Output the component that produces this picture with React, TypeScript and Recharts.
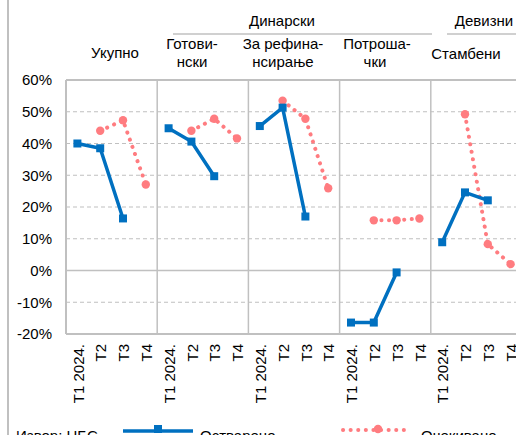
import React from 'react';
import {
  LineChart,
  Line,
  XAxis,
  YAxis,
  CartesianGrid,
  ReferenceLine,
} from 'recharts';

const groups = ['Укупно', 'Готовински', 'За рефинансирање', 'Потрошачки', 'Стамбени'];
const quarters = ['T1 2024.', 'T2', 'T3', 'T4'];

// Остварено
const ukupnoActual = [40, 38.5, 16.4, null];
const gotovinskiActual = [44.8, 40.6, 29.7, null];
const refinActual = [45.5, 51.3, 17.0, null];
const potrosackiActual = [-16.4, -16.4, -0.6, null];
const stambeniActual = [8.9, 24.6, 22.1, null];

// Очекивано
const ukupnoExpected = [null, 44.0, 47.3, 27.1];
const gotovinskiExpected = [null, 44.0, 47.8, 41.6];
const refinExpected = [null, 53.5, 47.8, 25.9];
const potrosackiExpected = [null, 15.8, 15.8, 16.4];
const stambeniExpected = [null, 49.2, 8.3, 2.0];

const yTicks = [-20, -10, 0, 10, 20, 30, 40, 50, 60];

const actualByGroup = [ukupnoActual, gotovinskiActual, refinActual, potrosackiActual, stambeniActual];
const expectedByGroup = [ukupnoExpected, gotovinskiExpected, refinExpected, potrosackiExpected, stambeniExpected];

const data = groups.flatMap((g, gi) =>
  quarters.map((q, qi) => ({
    key: `${g}|${q}`,
    quarter: q,
    actual: actualByGroup[gi][qi],
    expected: expectedByGroup[gi][qi],
  }))
);

const BLUE = '#0070C0';
const PINK = '#FF7C80';
const GRID = '#c0c0c0';
const FONT = 'Arial, "Liberation Sans", sans-serif';

const SquareDot = (props: any) => {
  const { cx, cy, value } = props;
  if (value == null || cx == null || cy == null) return <g />;
  return <rect x={cx - 4} y={cy - 4} width={8} height={8} fill={BLUE} />;
};

const CircleDot = (props: any) => {
  const { cx, cy, value } = props;
  if (value == null || cx == null || cy == null) return <g />;
  return <circle cx={cx} cy={cy} r={4.2} fill={PINK} />;
};

const QuarterTick = (props: any) => {
  const { x, y, payload } = props;
  const q = String(payload.value).split('|')[1];
  return (
    <text
      x={0}
      y={0}
      transform={`translate(${x + 1},${y}) rotate(-90)`}
      textAnchor="end"
      dy="0.35em"
      fontSize={15}
      fontFamily={FONT}
      fill="#000"
    >
      {q}
    </text>
  );
};

const Headers = () => (
  <svg
    width={516}
    height={80}
    style={{ position: 'absolute', left: 0, top: 0, pointerEvents: 'none' }}
    fontFamily={FONT}
    fontSize={15}
  >
    <text x={282} y={26} textAnchor="middle">Динарски</text>
    <line x1={173} x2={432} y1={34} y2={34} stroke={GRID} strokeWidth={1.5} />
    <text x={484} y={26} textAnchor="middle">Девизни</text>
    <line x1={447} x2={516} y1={34} y2={34} stroke={GRID} strokeWidth={1.5} />
    <text x={115} y={58} textAnchor="middle">Укупно</text>
    <text x={192} y={49} textAnchor="middle">Готови-</text>
    <text x={192} y={67} textAnchor="middle">нски</text>
    <text x={283} y={49} textAnchor="middle">За рефина-</text>
    <text x={283} y={67} textAnchor="middle">нсирање</text>
    <text x={377} y={49} textAnchor="middle">Потроша-</text>
    <text x={375} y={67} textAnchor="middle">чки</text>
    <text x={466} y={59} textAnchor="middle">Стамбени</text>
  </svg>
);

const Footer = () => (
  <svg
    width={516}
    height={30}
    style={{ position: 'absolute', left: 0, top: 410, pointerEvents: 'none' }}
    fontFamily={FONT}
    fontSize={15}
  >
    <text x={16} y={31}>Извор: НБС</text>
    <line x1={123} x2={193} y1={21} y2={21} stroke={BLUE} strokeWidth={3.5} />
    <rect x={154} y={15} width={8} height={8} fill={BLUE} />
    <text x={200} y={31}>Остварено</text>
    <line
      x1={343}
      x2={410}
      y1={20}
      y2={20}
      stroke={PINK}
      strokeWidth={4}
      strokeDasharray="0.1 7.5"
      strokeLinecap="round"
    />
    <circle cx={378} cy={19} r={4.2} fill={PINK} />
    <text x={421} y={31}>Очекивано</text>
  </svg>
);

export default function App() {
  return (
    <div
      style={{
        position: 'absolute',
        left: 0,
        top: 0,
        width: 516,
        height: 435,
        overflow: 'hidden',
        background: '#fff',
      }}
    >
      <div
        style={{
          position: 'absolute',
          left: 7,
          top: 0,
          width: 1.5,
          height: 435,
          background: GRID,
        }}
      />
      <LineChart
        width={530}
        height={460}
        data={data}
        margin={{ top: 80, right: 8, bottom: 46, left: 0 }}
      >
        <CartesianGrid
          vertical={false}
          stroke={GRID}
          strokeDasharray="4 3"
          strokeWidth={1.2}
        />
        <XAxis
          dataKey="key"
          scale="band"
          interval={0}
          tick={<QuarterTick />}
          tickLine={false}
          axisLine={{ stroke: GRID, strokeWidth: 2 }}
          height={80}
          tickMargin={4}
        />
        <YAxis
          domain={[-20, 60]}
          ticks={yTicks}
          width={66}
          tickLine={false}
          tickSize={0}
          tickMargin={14}
          axisLine={{ stroke: GRID, strokeWidth: 2 }}
          tickFormatter={(v: number) => `${v}%`}
          tick={{ fill: '#000', fontSize: 15, fontFamily: FONT }}
          interval={0}
        />
        <ReferenceLine y={0} stroke={GRID} strokeWidth={1.5} />
        <ReferenceLine y={60} stroke={GRID} strokeWidth={2} />
        {groups.slice(1).map((g) => (
          <ReferenceLine
            key={g}
            x={`${g}|${quarters[0]}`}
            position="start"
            stroke={GRID}
            strokeWidth={1.5}
          />
        ))}
        <Line
          dataKey="expected"
          stroke={PINK}
          strokeWidth={4}
          strokeDasharray="0.1 7.5"
          strokeLinecap="round"
          dot={<CircleDot />}
          activeDot={false}
          isAnimationActive={false}
        />
        <Line
          dataKey="actual"
          stroke={BLUE}
          strokeWidth={3.5}
          dot={<SquareDot />}
          activeDot={false}
          isAnimationActive={false}
        />
      </LineChart>
      <Headers />
      <Footer />
    </div>
  );
}
